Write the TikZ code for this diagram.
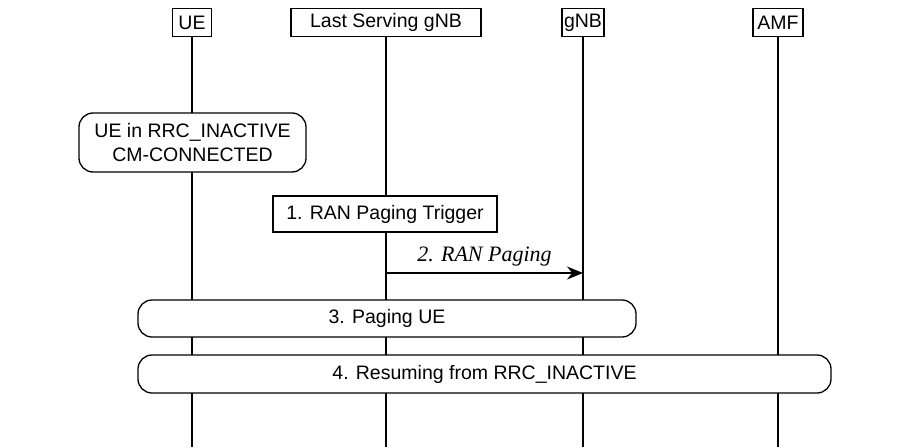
\documentclass[tikz,border=0pt]{standalone}
\usepackage{fontspec}
\setmainfont{Liberation Sans}
\newfontfamily\serifit{Liberation Serif}
\usetikzlibrary{arrows.meta}
\begin{document}
\begin{tikzpicture}[x=1pt,y=-1pt,
  every node/.style={font=\fontsize{19.5}{24}\selectfont},
  hdr/.style={draw,line width=1.3pt,inner sep=0pt,minimum height=28pt,anchor=north},
  life/.style={line width=1.3pt},
  rbox/.style={draw,line width=1.3pt,rounded corners=14pt,inner sep=0pt,align=center},
  sbox/.style={draw,line width=1.3pt,inner sep=0pt},
  msg/.style={line width=1.3pt,-{Stealth[length=16pt,width=13pt]}}]
\useasboundingbox (0,0) rectangle (912,447);
\node[hdr,minimum width=39pt] (ue) at (192,8) {UE};
\node[hdr,minimum width=190pt] (ls) at (386,8) {Last Serving gNB};
\node[hdr,minimum width=42pt] (gnb) at (583,8) {gNB};
\node[hdr,minimum width=50pt] (amf) at (778,8) {AMF};
\coordinate (ueb) at (192,447);
\coordinate (lsb) at (386,447);
\coordinate (gnbb) at (583,447);
\coordinate (amfb) at (778,447);
\draw[life] (ue.south) -- (ueb);
\draw[life] (ls.south) -- (lsb);
\draw[life] (gnb.south) -- (gnbb);
\draw[life] (amf.south) -- (amfb);
\node[rbox,fill=white,minimum width=227pt,minimum height=59pt] (s0) at (192.5,142.5) {UE in RRC\_INACTIVE\\CM-CONNECTED};
\node[sbox,fill=white,minimum width=224pt,minimum height=36pt] (s1) at (385,214) {1. RAN Paging Trigger};
\coordinate (a1) at (386,273);
\coordinate (a2) at (583,273);
\draw[msg] (a1) -- node[above=3pt,font=\serifit\itshape\fontsize{22}{24}\selectfont] {2. RAN Paging} (a2);
\node[rbox,fill=white,minimum width=498pt,minimum height=37pt] (s3) at (387,318.5) {3. Paging UE};
\node[rbox,fill=white,minimum width=693pt,minimum height=38pt] (s4) at (484.5,374) {4. Resuming from RRC\_INACTIVE};
\end{tikzpicture}
\end{document}
